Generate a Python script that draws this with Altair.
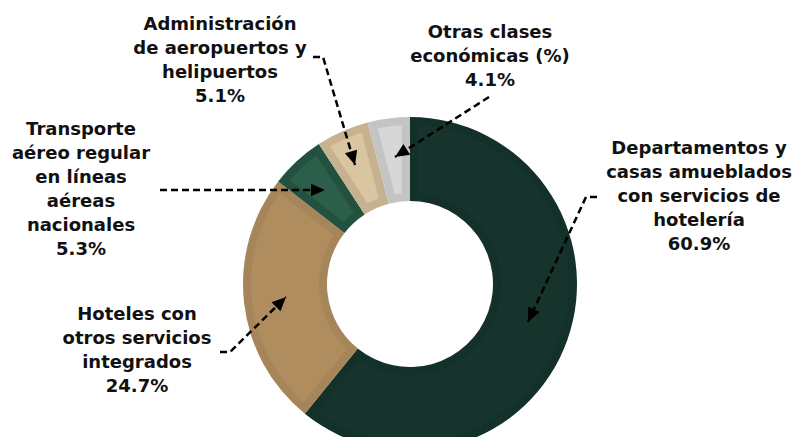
import math
import altair as alt
import pandas as pd

# ---- data ----
categories = [
    "Departamentos y casas amueblados con servicios de hotelería",
    "Hoteles con otros servicios integrados",
    "Transporte aéreo regular en líneas aéreas nacionales",
    "Administración de aeropuertos y helipuertos",
    "Otras clases económicas (%)",
]
shares = [60.9, 24.7, 5.3, 5.1, 4.1]
outer_colors = ["#14302a", "#a6855a", "#22523f", "#c6b28e", "#c4c4c4"]
inner_colors = ["#16332c", "#b08d5f", "#2b5f4b", "#d9c5a1", "#d7d7d7"]

label_texts = [
    "Departamentos y\ncasas amueblados\ncon servicios de\nhotelería\n60.9%",
    "Hoteles con\notros servicios\nintegrados\n24.7%",
    "Transporte\naéreo regular\nen líneas\naéreas\nnacionales\n5.3%",
    "Administración\nde aeropuertos y\nhelipuertos\n5.1%",
    "Otras clases\neconómicas (%)\n4.1%",
]
# annotation anchors (chart coordinates, centre of first line)
label_x = [691, 129, 73, 212, 482]
label_y = [141, 307, 122, 17, 25]

arrow_x = [
    [589, 578, 520],
    [212, 222, 278],
    [152, 317],
    [305, 315, 347],
    [481, 387],
]
arrow_y = [
    [189, 189, 314],
    [344, 344, 289],
    [182, 182],
    [49, 49, 157],
    [89, 149],
]

W, H = 787, 429
CX, CY = 402, 276

# ---- tables ----
slices = pd.DataFrame({
    "category": categories,
    "share": shares,
    "order": list(range(len(categories))),
    "outer": outer_colors,
    "inner": inner_colors,
})

labels = pd.DataFrame({"text": label_texts, "x": label_x, "y": label_y})

rows = []
heads = []
for i, (xs_, ys_) in enumerate(zip(arrow_x, arrow_y)):
    for j, (x, y) in enumerate(zip(xs_, ys_)):
        rows.append({"arrow": i, "step": j, "x": x, "y": y})
    dx = xs_[-1] - xs_[-2]
    dy = ys_[-1] - ys_[-2]
    ang = math.degrees(math.atan2(dx, -dy)) % 360
    heads.append({"arrow": i, "x": xs_[-1], "y": ys_[-1], "angle": ang})
lines = pd.DataFrame(rows)
heads = pd.DataFrame(heads)

xs = alt.Scale(domain=[0, W], nice=False, zero=False)
ys = alt.Scale(domain=[0, H], nice=False, zero=False, reverse=True)

outer = alt.Chart(slices).mark_arc(radius=167, radius2=83).encode(
    theta=alt.Theta("share:Q", stack=True),
    order=alt.Order("order:Q"),
    color=alt.Color("outer:N", scale=None),
    x=alt.value(CX),
    y=alt.value(CY),
)

inner = alt.Chart(slices).mark_arc(radius=159, radius2=91, padAngle=0.09).encode(
    theta=alt.Theta("share:Q", stack=True),
    order=alt.Order("order:Q"),
    color=alt.Color("inner:N", scale=None),
    x=alt.value(CX),
    y=alt.value(CY),
)

arrow_lines = alt.Chart(lines).mark_line(
    color="black", strokeWidth=2.5, strokeDash=[7, 4]
).encode(
    x=alt.X("x:Q", scale=xs, axis=None),
    y=alt.Y("y:Q", scale=ys, axis=None),
    detail="arrow:N",
    order="step:Q",
)

arrow_heads = alt.Chart(heads).mark_point(
    shape="M0,0L0.5,1.1L-0.5,1.1Z", filled=True, color="black",
    strokeWidth=0, size=650, opacity=1,
).encode(
    x=alt.X("x:Q", scale=xs, axis=None),
    y=alt.Y("y:Q", scale=ys, axis=None),
    angle=alt.Angle("angle:Q", scale=None),
)

texts = alt.Chart(labels).mark_text(
    font="DejaVu Sans", fontWeight="bold", fontSize=18, lineHeight=24,
    lineBreak="\n", align="center", baseline="middle", color="#111111",
).encode(
    x=alt.X("x:Q", scale=xs, axis=None),
    y=alt.Y("y:Q", scale=ys, axis=None),
    text="text:N",
)

chart = alt.layer(outer, inner, arrow_lines, arrow_heads, texts).properties(
    width=W, height=H, padding=0,
    autosize=alt.AutoSizeParams(type="none"),
).configure_view(stroke=None)

chart.save("out.html", embed_options={"renderer": "svg", "actions": False})
